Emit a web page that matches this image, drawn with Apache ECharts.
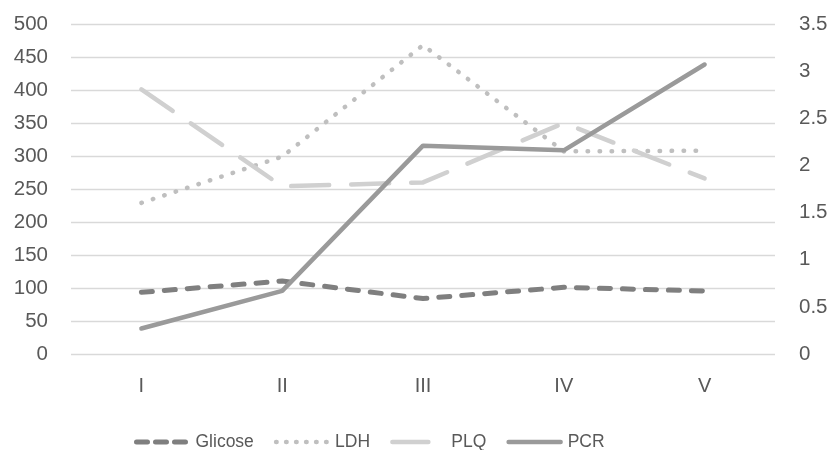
<!DOCTYPE html>
<html><head><meta charset="utf-8">
<script src="https://cdn.jsdelivr.net/npm/echarts@6/dist/echarts.min.js"></script>
<style>html,body{margin:0;padding:0;background:#fff}#c{width:831px;height:450px}</style>
</head><body><div id="c"></div>
<script>
const categories = ['I', 'II', 'III', 'IV', 'V'];
const glicose = [93.5, 110.5, 84, 101, 95.5];
const ldh = [229, 299, 468, 307, 308];
const plq = [401, 254, 260, 350, 266];
const pcr = [0.27, 0.67, 2.21, 2.16, 3.07];
const leftTicks = {min: 0, max: 500, interval: 50};
const rightTicks = {min: 0, max: 3.5, interval: 0.5};

const FONT = 'Liberation Sans';
const styles = {
  Glicose: {color: '#7f7f7f', width: 5, type: [11, 12], legendType: [11, 8]},
  LDH: {color: '#bfbfbf', width: 4.5, type: [0.5, 11.5], legendType: [0.5, 9.5]},
  PLQ: {color: '#d0d0d0', width: 4.5, type: [38, 22], legendType: [36, 16]},
  PCR: {color: '#9a9a9a', width: 4.5, type: 'solid', legendType: 'solid'}
};
const names = ['Glicose', 'LDH', 'PLQ', 'PCR'];
const chart = echarts.init(document.getElementById('c'), null, {renderer: 'canvas'});
chart.setOption({
  animation: false,
  backgroundColor: '#fff',
  grid: {left: 71, right: 56, top: 24, bottom: 96, containLabel: false},
  legend: {
    left: 129, top: 428, itemWidth: 52, itemHeight: 10, itemGap: 20,
    textStyle: {fontFamily: FONT, fontSize: 17.5, color: '#595959', padding: [0,0,0,2]},
    data: names.map(n => ({
      name: n,
      itemStyle: {color: 'rgba(0,0,0,0)', borderWidth: 0, opacity: 0},
      lineStyle: {color: styles[n].color, width: styles[n].width, type: styles[n].legendType, cap: 'round', opacity: 1}
    }))
  },
  xAxis: {
    type: 'category', data: categories, boundaryGap: true,
    axisLine: {show: false}, axisTick: {show: false},
    axisLabel: {fontFamily: FONT, fontSize: 20, color: '#595959', margin: 22}
  },
  yAxis: [
    {type: 'value', min: leftTicks.min, max: leftTicks.max, interval: leftTicks.interval,
     axisLine: {show: false}, axisTick: {show: false},
     axisLabel: {fontFamily: FONT, fontSize: 20.5, color: '#595959', margin: 23},
     splitLine: {lineStyle: {color: '#d9d9d9', width: 1.3}}},
    {type: 'value', min: rightTicks.min, max: rightTicks.max, interval: rightTicks.interval,
     axisLine: {show: false}, axisTick: {show: false},
     axisLabel: {fontFamily: FONT, fontSize: 20.5, color: '#595959', margin: 24},
     splitLine: {show: false}}
  ],
  series: [
    {name: 'Glicose', data: glicose, yAxisIndex: 0},
    {name: 'LDH', data: ldh, yAxisIndex: 0},
    {name: 'PLQ', data: plq, yAxisIndex: 0},
    {name: 'PCR', data: pcr, yAxisIndex: 1}
  ].map(s => Object.assign(s, {
    type: 'line', symbol: 'none',
    itemStyle: {color: styles[s.name].color},
    lineStyle: {color: styles[s.name].color, width: styles[s.name].width, type: styles[s.name].type, cap: 'round', join: 'round'}
  }))
});
</script></body></html>
